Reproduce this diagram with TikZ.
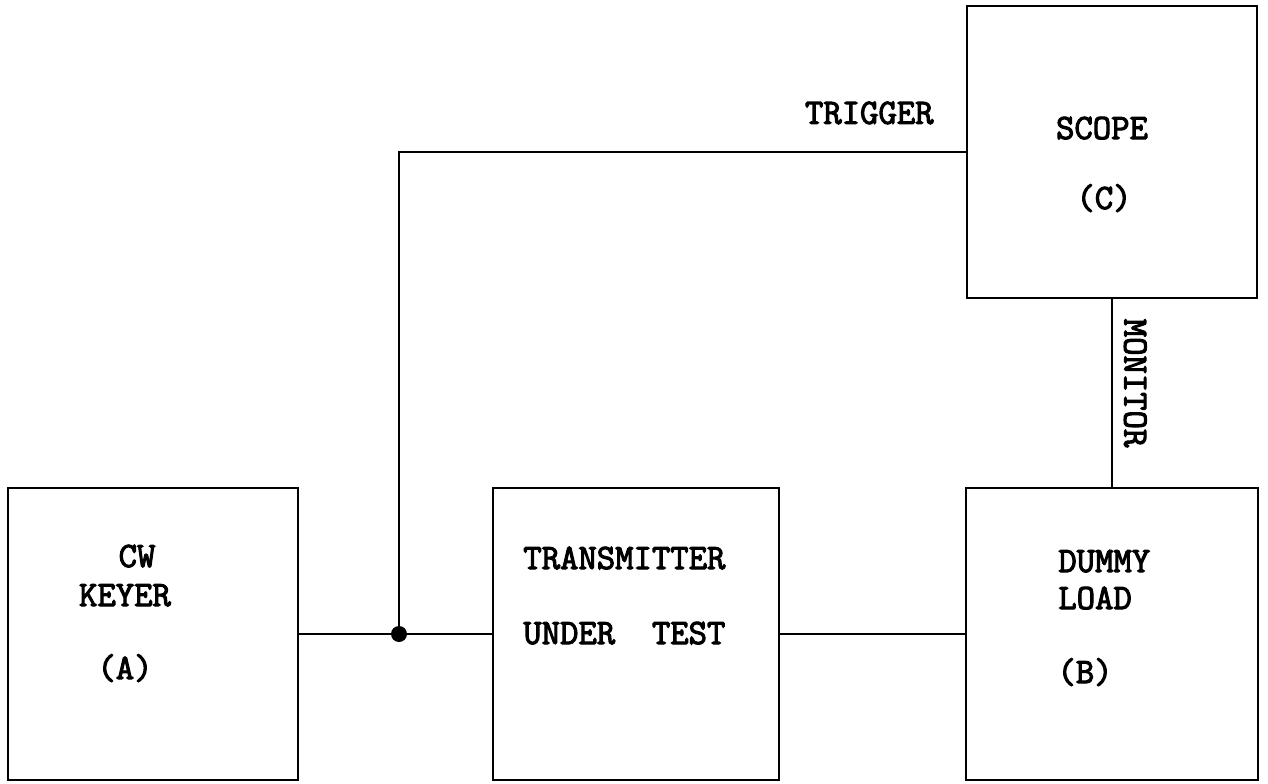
\documentclass[tikz,border=0pt]{standalone}
\usepackage{fontspec}
\newfontfamily\typefont{Latin Modern Mono}[FakeBold=3]
\usepackage{tikz}
\usetikzlibrary{positioning, calc}
\tikzstyle{unit} = [draw=black, line width=1.6pt, inner sep=0pt, minimum height=5.84cm]
\tikzstyle{lbl} = [font=\typefont\fontsize{20.3}{24}\selectfont, inner sep=0pt]
\tikzstyle{wire} = [line width=1.6pt, black]

\begin{document}
\begin{tikzpicture}[x=0.02cm, y=-0.02cm]
\useasboundingbox (0,0) rectangle (1268,784);

% the four units
\node[unit, minimum width=5.8cm] (keyer) at (153,634) {};
\node[unit, minimum width=5.72cm] (transmitter) at (636,634) {};
\node[unit, minimum width=5.84cm] (dummyload) at (1112,634) {};
\node[unit, minimum width=5.8cm] (scope) at (1112,152) {};

% texts in the units
\node[lbl, anchor=base] (cw) at (137,567) {CW};
\node[lbl, anchor=base] (keyertext) at (125,606) {KEYER};
\node[lbl, anchor=base] (keyerletter) at (125,679) {(A)};
\node[lbl, anchor=base west] (transmittertext) at (523,569) {TRANSMITTER};
\node[lbl, anchor=base west] (undertest) at (523,644) {UNDER~~TEST};
\node[lbl, anchor=base west] (dummytext) at (1058,572) {DUMMY};
\node[lbl, anchor=base west] (loadtext) at (1058,609) {LOAD};
\node[lbl, anchor=base] (loadletter) at (1085,683) {(B)};
\node[lbl, anchor=base] (scopetext) at (1102,139) {SCOPE};
\node[lbl, anchor=base] (scopeletter) at (1104,209) {(C)};

% junction
\node[circle, fill=black, inner sep=0pt, minimum size=0.32cm] (tap) at (399,634) {};

\draw[wire] (keyer.east) -- (transmitter.west);
\draw[wire] (transmitter.east) -- (dummyload.west);
\draw[wire] (tap.center) |- node[lbl, pos=0.915, above, yshift=15] (triggerlabel) {TRIGGER} (scope.west);
\draw[wire] (scope.south) -- node[lbl, pos=0.447, rotate=-90, anchor=south, yshift=6] (monitorlabel) {MONITOR} (dummyload.north);
\end{tikzpicture}
\end{document}
